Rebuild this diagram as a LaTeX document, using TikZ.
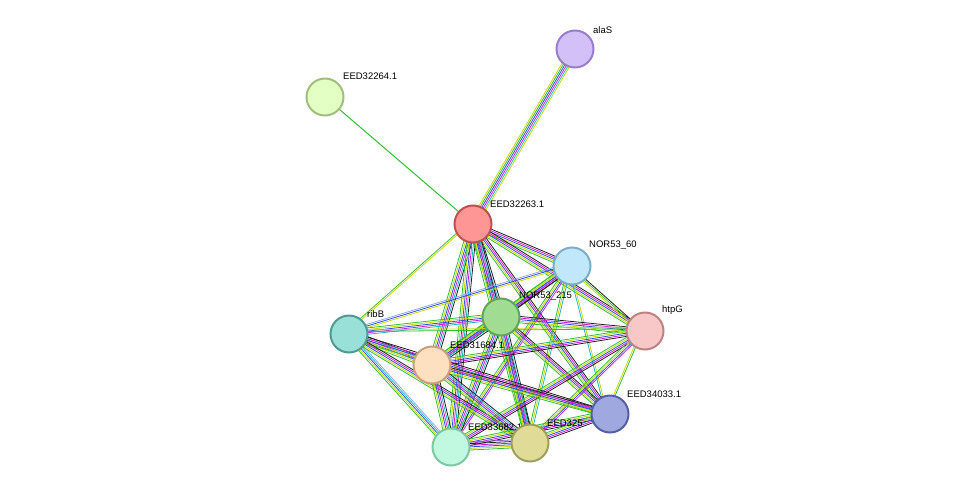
\documentclass[tikz,border=0pt]{standalone}
\usepackage{fontspec}
\setmainfont{Liberation Sans}
\usetikzlibrary{calc}
\definecolor{cg}{HTML}{30C030}
\definecolor{cy}{HTML}{C8D800}
\definecolor{cb}{HTML}{3050E0}
\definecolor{cm}{HTML}{D020D0}
\definecolor{cc}{HTML}{20B8C8}
\definecolor{ck}{HTML}{202020}
\definecolor{cp}{HTML}{8060C0}
\definecolor{cl}{HTML}{90A8F0}
\newcommand\bund[3]{%
  \foreach \cc [count=\i] in {#3} {%
    \pgfmathsetmacro\off{(\i-3.5)*1.6}%
    \draw[draw=\cc,line width=0.8pt] ($(#1)!\off pt!90:(#2)$) -- ($(#2)!\off pt!-90:(#1)$);
  }}
\tikzset{nd/.style={circle,minimum size=37pt,inner sep=0pt,line width=2pt},
 lb/.style={font=\fontsize{9.5}{11}\selectfont,anchor=south west,inner sep=1pt}}
\begin{document}
\begin{tikzpicture}[x=1pt,y=-1pt]
\useasboundingbox (0,0) rectangle (975,493);
\coordinate (alaS) at (575,49);
\coordinate (e64) at (325,97);
\coordinate (e63) at (473,224);
\coordinate (n60) at (572,266);
\coordinate (n215) at (501,317);
\coordinate (htpG) at (645,331);
\coordinate (ribB) at (349,334);
\coordinate (e84) at (432,365);
\coordinate (e33) at (610,414);
\coordinate (e82) at (451,447);
\coordinate (e25) at (530,443);
\draw[cg,line width=1pt] (e64) -- (e63);
\bund{alaS}{e63}{cy,cg,cb,cm,cc,cy}
\bund{e63}{n60}{cg,cy,cb,cm,ck}
\bund{e63}{n215}{cg,cy,cb,cm,cc,ck}
\bund{e63}{htpG}{cg,cy,cb,cm,ck}
\bund{e63}{ribB}{cg,cy}
\bund{e63}{e84}{cg,cy,cb,cm,cc,ck}
\bund{e63}{e33}{cg,cy,cb,cm,ck}
\bund{e63}{e82}{cg,cy,cb,cm,cc,ck}
\bund{e63}{e25}{cg,cy,cb,cm,cc,ck}
\bund{n60}{n215}{cg,cy,cb,cm,ck}
\bund{n60}{htpG}{cy,cg,ck}
\bund{n60}{ribB}{cl,cb,cy}
\bund{n60}{e84}{cg,cy,cb,cm,ck}
\bund{n60}{e33}{cc,cy}
\bund{n60}{e82}{cg,cy,cb,cm}
\bund{n60}{e25}{cg,cy,cc}
\bund{n215}{htpG}{cg,cy,cb,cm,ck}
\bund{n215}{ribB}{cg,cy,cb,cm,cc}
\bund{n215}{e84}{cg,cy,cb,cm,cc,ck}
\bund{n215}{e33}{cg,cy,cb,cm,ck}
\bund{n215}{e82}{cg,cy,cb,cm,cc,ck}
\bund{n215}{e25}{cg,cy,cb,cm,cc,ck}
\bund{htpG}{ribB}{cy,cg}
\bund{htpG}{e84}{cg,cy,cb,cm,ck}
\bund{htpG}{e33}{cy,cg}
\bund{htpG}{e82}{cg,cy,cb,cm,ck}
\bund{htpG}{e25}{cg,cy,cb,cm}
\bund{ribB}{e84}{cg,cy,cb,cm,cc,ck}
\bund{ribB}{e33}{cg,cy,cb,cm,ck}
\bund{ribB}{e82}{cg,cy,cb,cc,cl}
\bund{ribB}{e25}{cg,cy,cb,cm,ck}
\bund{e84}{e33}{cg,cy,cb,cm,ck}
\bund{e84}{e82}{cg,cy,cb,cm,cc,ck}
\bund{e84}{e25}{cg,cy,cb,cm,cc,ck}
\bund{e33}{e82}{cg,cy,cb,cm,ck}
\bund{e33}{e25}{cg,cy,cb,cm,ck}
\bund{e82}{e25}{cg,cy,cb,cm,ck,cp}
\node[lb] at (592,35) {alaS};
\node[lb] at (342,81) {EED32264.1};
\node[lb] at (489,209) {EED32263.1};
\node[lb] at (588,251) {NOR53\_60};
\node[lb] at (661,316) {htpG};
\node[lb] at (366,319) {ribB};
\node[lb] at (449,350) {EED31684.1};
\node[lb] at (626,399) {EED34033.1};
\node[lb] at (467,432) {EED33682.1};
\node[lb] at (546,428) {EED325};
\node[nd,fill={rgb,255:red,212;green,192;blue,248},draw={rgb,255:red,150;green,125;blue,205}] (nalaS) at (alaS) {};
\node[nd,fill={rgb,255:red,228;green,255;blue,196},draw={rgb,255:red,160;green,190;blue,125}] (n64) at (e64) {};
\node[nd,fill={rgb,255:red,255;green,150;blue,150},draw={rgb,255:red,190;green,80;blue,80}] (n63) at (e63) {};
\node[nd,fill={rgb,255:red,192;green,232;blue,250},draw={rgb,255:red,125;green,172;blue,198}] (nn60) at (n60) {};
\node[nd,fill={rgb,255:red,160;green,220;blue,145},draw={rgb,255:red,95;green,165;blue,95}] (nn215) at (n215) {};
\node[nd,fill={rgb,255:red,248;green,200;blue,200},draw={rgb,255:red,190;green,130;blue,130}] (nhtpG) at (htpG) {};
\node[nd,fill={rgb,255:red,152;green,224;blue,216},draw={rgb,255:red,78;green,155;blue,148}] (nribB) at (ribB) {};
\node[nd,fill={rgb,255:red,253;green,224;blue,192},draw={rgb,255:red,200;green,160;blue,125}] (n84) at (e84) {};
\node[nd,fill={rgb,255:red,160;green,168;blue,224},draw={rgb,255:red,85;green,95;blue,165}] (n33) at (e33) {};
\node[nd,fill={rgb,255:red,192;green,248;blue,224},draw={rgb,255:red,125;green,200;blue,160}] (n82) at (e82) {};
\node[nd,fill={rgb,255:red,224;green,220;blue,152},draw={rgb,255:red,158;green,158;blue,95}] (n25) at (e25) {};
\node[lb] at (518,302) {NOR53\_215};
\end{tikzpicture}
\end{document}
